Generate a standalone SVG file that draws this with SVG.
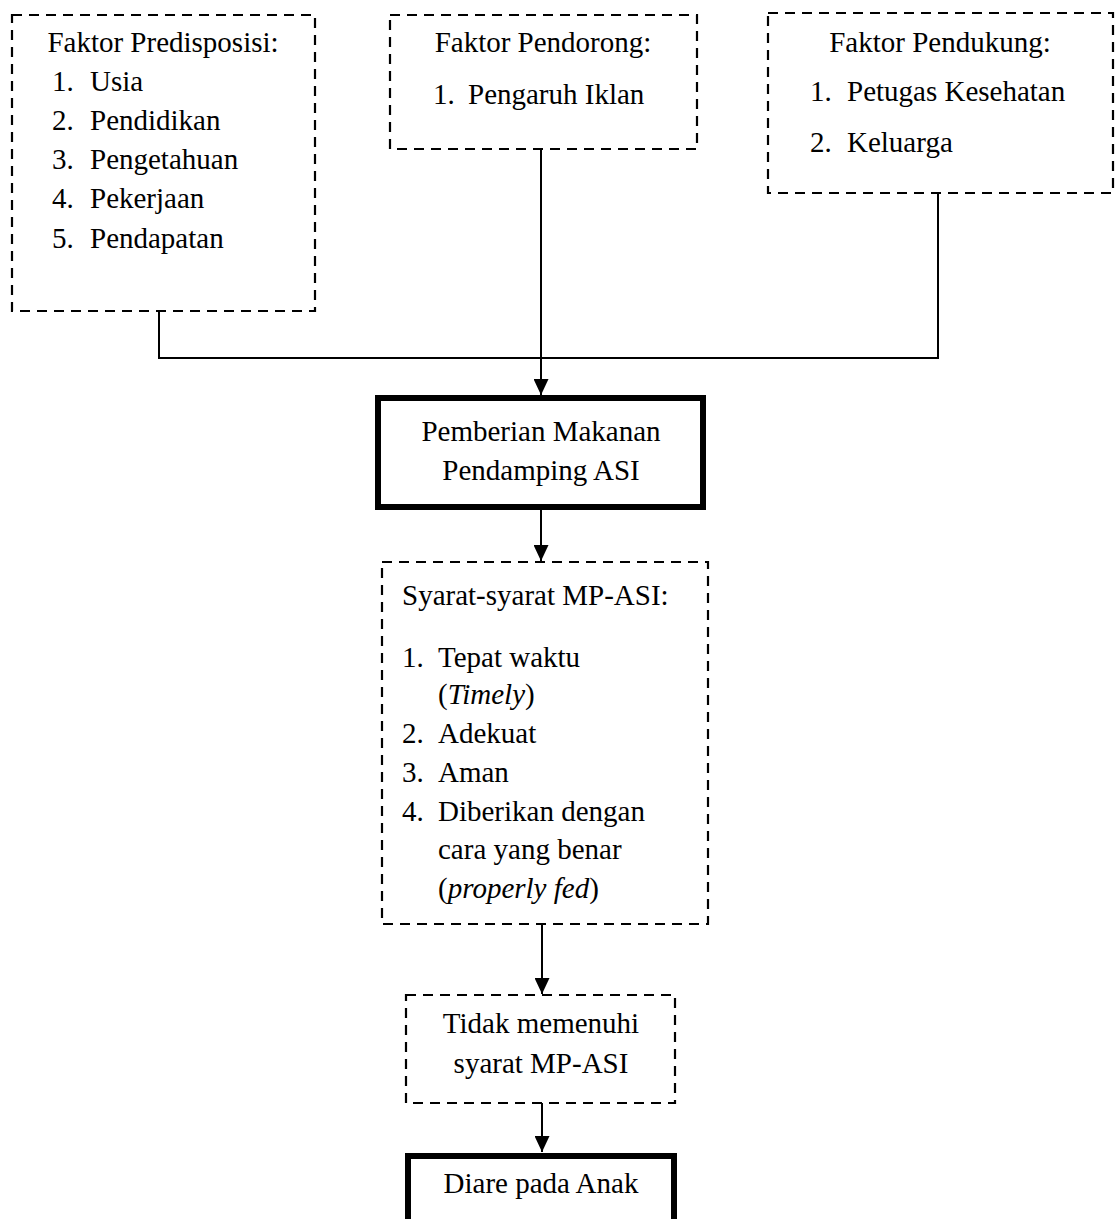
<svg xmlns="http://www.w3.org/2000/svg" width="1116" height="1219" viewBox="0 0 1116 1219">
<style>
text{font-family:"Liberation Serif","Times New Roman",serif;font-size:29px;fill:#000}
.c{text-anchor:middle}
.dash{fill:#fff;stroke:#000;stroke-width:2.2;stroke-dasharray:10 7}
.thick{fill:#fff;stroke:#000;stroke-width:6}
.ln{fill:none;stroke:#000;stroke-width:2}
.i{font-style:italic}
</style>
<defs>
<marker id="ah" viewBox="0 0 16 15" refX="16" refY="7.5" markerWidth="16" markerHeight="15" markerUnits="userSpaceOnUse" orient="auto">
<path d="M0,0 L16,7.5 L0,15 Z" fill="#000"/>
</marker>
</defs>
<rect width="1116" height="1219" fill="#fff"/>
<g id="connectors">
<polyline class="ln" points="159,312 159,358 938,358 938,194"/>
<line class="ln" x1="541" y1="149" x2="541" y2="395" marker-end="url(#ah)"/>
<line class="ln" x1="541" y1="507" x2="541" y2="561" marker-end="url(#ah)"/>
<line class="ln" x1="542" y1="924" x2="542" y2="994" marker-end="url(#ah)"/>
<line class="ln" x1="542" y1="1103" x2="542" y2="1152" marker-end="url(#ah)"/>
</g>
<g id="predisposisi">
<rect class="dash" x="12" y="15" width="303" height="296"/>
<text class="c" x="163" y="52">Faktor Predisposisi:</text>
<text x="52" y="91">1.</text><text x="90" y="91">Usia</text>
<text x="52" y="130">2.</text><text x="90" y="130">Pendidikan</text>
<text x="52" y="169">3.</text><text x="90" y="169">Pengetahuan</text>
<text x="52" y="208">4.</text><text x="90" y="208">Pekerjaan</text>
<text x="52" y="248">5.</text><text x="90" y="248">Pendapatan</text>
</g>
<g id="pendorong">
<rect class="dash" x="390" y="15" width="307" height="134"/>
<text class="c" x="543" y="52">Faktor Pendorong:</text>
<text x="433" y="104">1.</text><text x="468" y="104">Pengaruh Iklan</text>
</g>
<g id="pendukung">
<rect class="dash" x="768" y="13" width="345" height="180"/>
<text class="c" x="940" y="52">Faktor Pendukung:</text>
<text x="810" y="101">1.</text><text x="847" y="101">Petugas Kesehatan</text>
<text x="810" y="152">2.</text><text x="847" y="152">Keluarga</text>
</g>
<g id="mpasi">
<rect class="thick" x="378" y="398" width="325" height="109"/>
<text class="c" x="541" y="441">Pemberian Makanan</text>
<text class="c" x="541" y="480">Pendamping ASI</text>
</g>
<g id="syarat">
<rect class="dash" x="382" y="562" width="326" height="362"/>
<text x="402" y="605">Syarat-syarat MP-ASI:</text>
<text x="402" y="667">1.</text><text x="438" y="667">Tepat waktu</text>
<text x="438" y="704">(<tspan class="i">Timely</tspan>)</text>
<text x="402" y="743">2.</text><text x="438" y="743">Adekuat</text>
<text x="402" y="782">3.</text><text x="438" y="782">Aman</text>
<text x="402" y="821">4.</text><text x="438" y="821">Diberikan dengan</text>
<text x="438" y="859">cara yang benar</text>
<text x="438" y="898">(<tspan class="i">properly fed</tspan>)</text>
</g>
<g id="tidak">
<rect class="dash" x="406" y="995" width="269" height="108"/>
<text class="c" x="541" y="1033">Tidak memenuhi</text>
<text class="c" x="541" y="1073">syarat MP-ASI</text>
</g>
<g id="diare">
<rect class="thick" x="408" y="1156" width="266" height="100"/>
<text class="c" x="541" y="1193">Diare pada Anak</text>
</g>
</svg>
